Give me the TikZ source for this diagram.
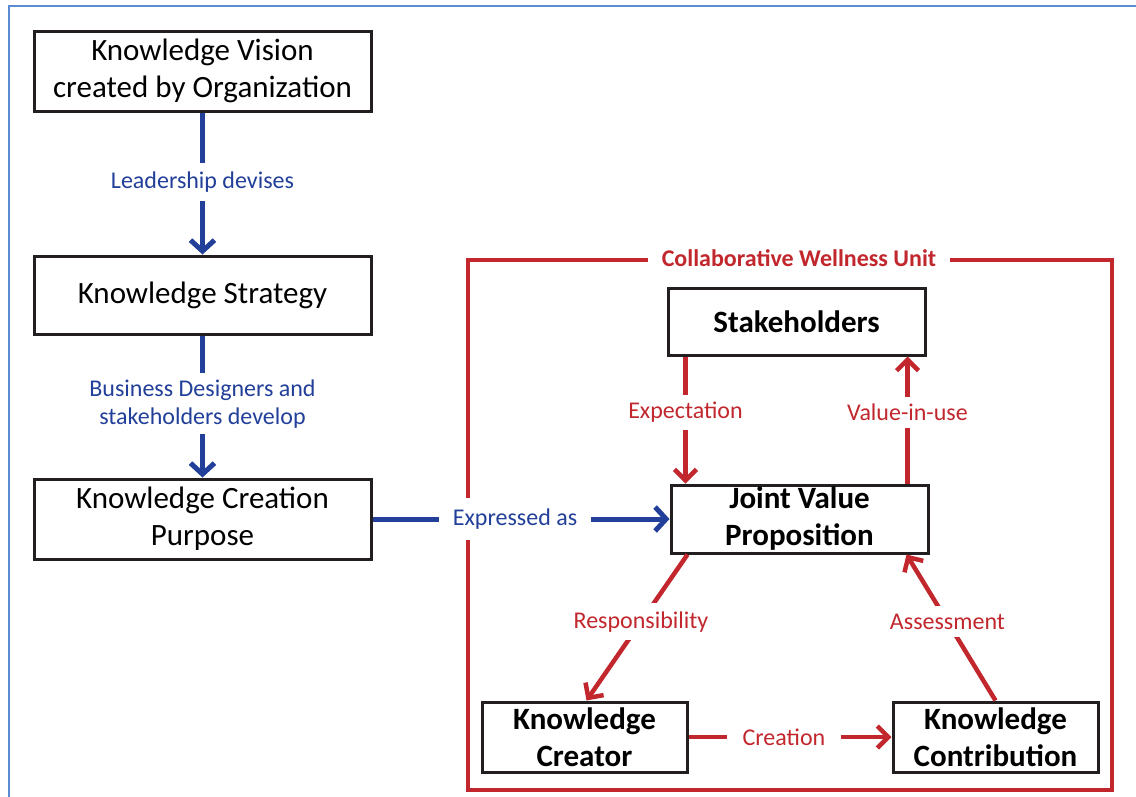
\documentclass[tikz,border=0pt]{standalone}
\usepackage{fontspec}
\setmainfont{Carlito}
\usetikzlibrary{arrows.meta,calc}
\definecolor{flowblue}{HTML}{22409A}
\definecolor{unitred}{HTML}{C1272D}
\definecolor{boxline}{HTML}{231F20}
\definecolor{pageblue}{HTML}{5B8BD0}
\tikzset{
  mainbox/.style={draw=boxline, line width=3pt, fill=white, inner sep=0pt,
    align=center, font=\fontsize{31}{37}\selectfont},
  unitbox/.style={mainbox, font=\fontsize{31}{37}\selectfont\bfseries},
  blueflow/.style={draw=flowblue, line width=5pt,
    -{Straight Barb[length=11pt,width=24pt,line width=5pt]}},
  redflow/.style={draw=unitred, line width=4.5pt,
    -{Straight Barb[length=11pt,width=22pt,line width=4.5pt]}},
  bluelabel/.style={fill=white, text=flowblue, align=center,
    font=\fontsize{24}{28}\selectfont, inner xsep=12pt, inner ysep=7pt},
  redlabel/.style={fill=white, text=unitred, align=center,
    font=\fontsize{24}{28}\selectfont, inner xsep=10pt, inner ysep=7pt},
}
\begin{document}
\begin{tikzpicture}[x=1pt,y=-1pt]
\useasboundingbox (0,0) rectangle (1136,796);
% page frame
\draw[pageblue, line width=2.5pt] (9,800) -- (9,6) -- (1140,6);

% left column
\node[mainbox, minimum width=337pt, minimum height=80pt] (vision) at (202.5,71)
  {Knowledge Vision\\created by Organization};
\node[mainbox, minimum width=337pt, minimum height=78pt] (strategy) at (202.5,295)
  {Knowledge Strategy};
\node[mainbox, minimum width=337pt, minimum height=80pt] (purpose) at (202.5,519)
  {Knowledge Creation\\Purpose};

% collaborative wellness unit
\draw[unitred, line width=4.5pt] (468,260) rectangle (1112,790);
\node[fill=white, text=unitred, inner xsep=14pt, inner ysep=4pt,
  font=\fontsize{24}{28}\selectfont\bfseries] (unittitle) at (799,258)
  {Collaborative Wellness Unit};

\node[unitbox, minimum width=257pt, minimum height=67pt] (stake) at (796.5,321.5)
  {Stakeholders};
\node[unitbox, minimum width=257pt, minimum height=68pt] (jvp) at (799.5,519)
  {Joint Value\\Proposition};
\node[unitbox, minimum width=205pt, minimum height=70pt] (creator) at (584.5,737)
  {Knowledge\\Creator};
\node[unitbox, minimum width=205pt, minimum height=70pt] (contrib) at (995.5,737)
  {Knowledge\\Contribution};

% blue flow
\draw[blueflow] (vision.south) -- node[bluelabel, pos=0.49, inner ysep=9pt]
  {Leadership devises} (strategy.north);
\draw[blueflow] (strategy.south) -- node[bluelabel, pos=0.48, inner ysep=6pt]
  {Business Designers and\\stakeholders develop} (purpose.north);
\draw[blueflow] (purpose.east) -- node[bluelabel, pos=0.48, inner xsep=14pt, inner ysep=11pt]
  {Expressed as} (jvp.west);

% red flow inside the unit
\draw[redflow] ([xshift=19pt]stake.south west) -- node[redlabel, pos=0.44] {Expectation}
  ([xshift=16pt]jvp.north west);
\draw[redflow] ([xshift=-22pt]jvp.north east) -- node[redlabel, pos=0.56] {Value-in-use}
  ([xshift=-19pt]stake.south east);
\draw[redflow] ([xshift=18pt]jvp.south west) -- node[redlabel, pos=0.46, inner xsep=3pt, inner ysep=8pt]
  {Responsibility} ([xshift=2pt]creator.north);
\draw[redflow] (contrib.north) -- node[redlabel, pos=0.54, inner xsep=3pt, inner ysep=8pt]
  {Assessment} ([xshift=-23pt]jvp.south east);
\draw[redflow] (creator.east) -- node[redlabel, pos=0.47, inner xsep=16pt] {Creation} (contrib.west);
\end{tikzpicture}
\end{document}
